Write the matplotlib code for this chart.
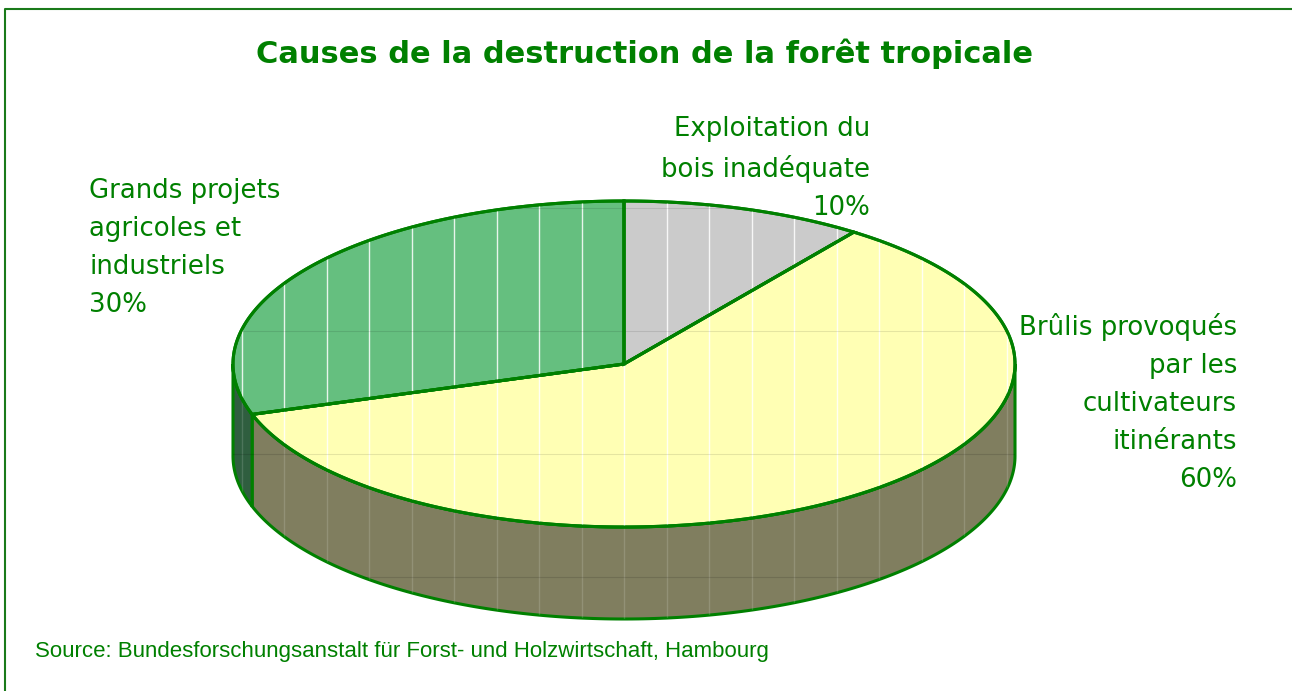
import numpy as np
import matplotlib.pyplot as plt
from matplotlib.patches import Polygon
from matplotlib.collections import LineCollection

# data
labels = ['Exploitation du\nbois inadéquate\n10%',
          'Brûlis provoqués\npar les\ncultivateurs\nitinérants\n60%',
          'Grands projets\nagricoles et\nindustriels\n30%']
values = [10, 60, 30]
top_colors = ['#cbcbcb', '#ffffb4', '#65bf7f']
side_colors = ['#6a6a6a', '#807e5f', '#2f5e3f']
title = 'Causes de la destruction de la forêt tropicale'
source = 'Source: Bundesforschungsanstalt für Forst- und Holzwirtschaft, Hambourg'

green = '#008000'
W, H = 1292, 691

fig = plt.figure(figsize=(W / 100, H / 100), dpi=100)
ax = fig.add_axes([0, 0, 1, 1])
ax.set_xlim(0, W)
ax.set_ylim(H, 0)
ax.axis('off')

# pie geometry (pixels)
cx, cy, rx, ry, depth = 624, 364, 391, 163, 92

def arc(t1, t2, n=200, dy=0):
    t = np.radians(np.linspace(t1, t2, n))
    return np.column_stack([cx + rx * np.cos(t), cy - ry * np.sin(t) + dy])

frac = np.array(values) / np.sum(values)
starts = 90 - 360 * np.concatenate([[0], np.cumsum(frac)[:-1]])
ends = starts - 360 * frac

def add_texture(patch, white_alpha, grid_alpha):
    xs = cx + 42.5 * np.arange(-10, 11)
    segs = [[(x, 150), (x, 650)] for x in xs]
    lc = LineCollection(segs, colors='white', linewidths=1.0, alpha=white_alpha, zorder=patch.get_zorder() + 0.1)
    lc.set_clip_path(patch)
    ax.add_collection(lc)
    ys = [208, 331, 454, 577]
    segs = [[(200, y), (1050, y)] for y in ys]
    lc = LineCollection(segs, colors='black', linewidths=0.8, alpha=grid_alpha, zorder=patch.get_zorder() + 0.1)
    lc.set_clip_path(patch)
    ax.add_collection(lc)

# side walls (front half only)
for s, e, sc in zip(starts, ends, side_colors):
    for k in (-1, 0, 1):
        lo = max(e, -180 + 360 * k)
        hi = min(s, 0 + 360 * k)
        if hi > lo:
            top = arc(hi, lo)
            bot = arc(lo, hi, dy=depth)
            p = Polygon(np.vstack([top, bot]), closed=True, facecolor=sc,
                        edgecolor=green, linewidth=2.2, zorder=1)
            ax.add_patch(p)
            add_texture(p, 0.15, 0.12)

# top faces
for s, e, tc in zip(starts, ends, top_colors):
    pts = np.vstack([[cx, cy], arc(s, e)])
    p = Polygon(pts, closed=True, facecolor=tc, edgecolor=green, linewidth=2.2, zorder=2)
    ax.add_patch(p)
    add_texture(p, 0.85, 0.1)
    ax.add_patch(Polygon(pts, closed=True, fill=False, edgecolor=green, linewidth=2.2, zorder=3))

lab_font = dict(fontsize=18.7, color=green, family='DejaVu Sans', linespacing=1.6)
ax.text(870, 221, labels[0], ha='right', va='bottom', multialignment='right', **lab_font)
ax.text(1237, 493, labels[1], ha='right', va='bottom', multialignment='right', **lab_font)
ax.text(89, 318, labels[2], ha='left', va='bottom', multialignment='left', **lab_font)

ax.text(645, 54, title, ha='center', va='center', fontsize=22, fontweight='bold',
        color=green, family='DejaVu Sans')
ax.text(35, 652, source, ha='left', va='center', fontsize=16, color=green,
        family='Liberation Sans')

# frame
ax.plot([5, 5, W], [H, 9, 9], color='#1a7a1a', linewidth=1.5, zorder=5)

fig.savefig('out.png', dpi=100)
